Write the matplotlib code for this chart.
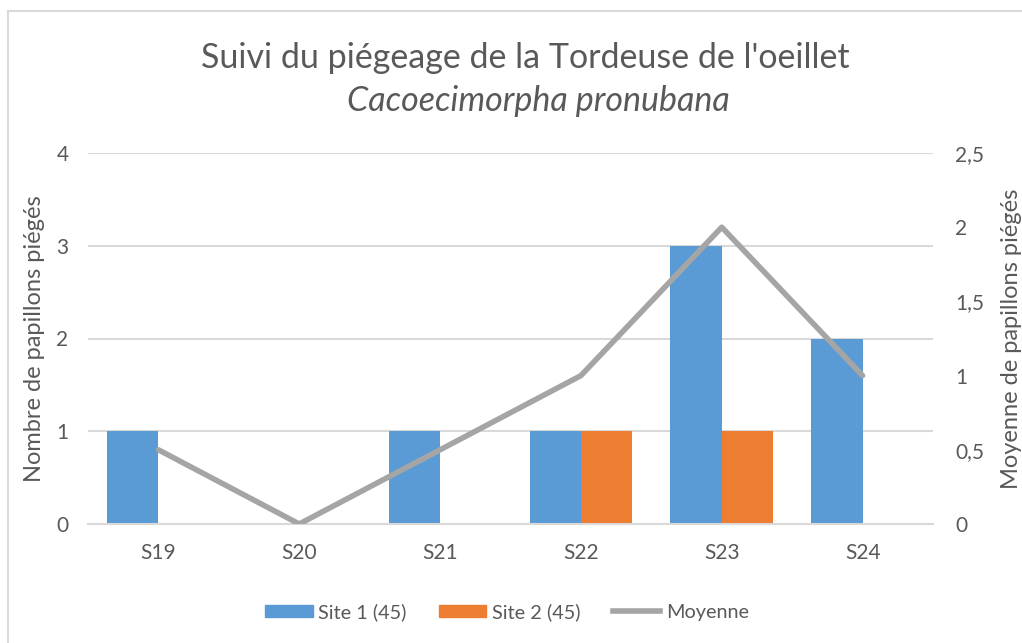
import numpy as np
import matplotlib
matplotlib.use("Agg")
import matplotlib.pyplot as plt
from matplotlib.patches import Rectangle
from matplotlib.lines import Line2D

plt.rcParams["font.family"] = ["Lato", "DejaVu Sans"]

# ── données ────────────────────────────────────────────────────────────────
semaines = ["S19", "S20", "S21", "S22", "S23", "S24"]
site1    = [1, 0, 1, 1, 3, 2]
site2    = [0, 0, 0, 1, 1, 0]
moyenne  = [0.5, 0, 0.5, 1, 2, 1]

BLEU, ORANGE, GRIS = "#5B9BD5", "#ED7D31", "#A5A5A5"
TXT  = "#595959"
GRID = "#D9D9D9"

fig = plt.figure(figsize=(10.22, 6.43), dpi=100)
ax = fig.add_axes([88/1022, 119/643, 845/1022, 371/643])
ax2 = ax.twinx()

x = np.arange(len(semaines))
w = 0.365
ax.bar(x - w/2, site1, width=w, color=BLEU, zorder=2)
ax.bar(x + w/2, site2, width=w, color=ORANGE, zorder=2)
ax2.plot(x, moyenne, color=GRIS, lw=4, solid_capstyle="round", zorder=3)

ax.set_xlim(-0.5, len(semaines) - 0.5)
ax.set_ylim(0, 4)
ax2.set_ylim(0, 2.5)
ax.set_yticks(range(5))
ax2.set_yticks([0, 0.5, 1, 1.5, 2, 2.5])
ax2.set_yticklabels(["0", "0,5", "1", "1,5", "2", "2,5"])
ax.set_xticks(x)
ax.set_xticklabels(semaines)

ax.grid(axis="y", color=GRID, lw=1.5, zorder=0)
ax.set_axisbelow(True)
for a in (ax, ax2):
    for s in a.spines.values():
        s.set_visible(False)
    a.tick_params(length=0, labelsize=15, colors=TXT)
ax.spines["bottom"].set_visible(True)
ax.spines["bottom"].set_color(GRID)
ax.spines["bottom"].set_linewidth(1.5)
ax.tick_params(axis="y", pad=14)
ax.tick_params(axis="x", pad=14)
ax2.tick_params(axis="y", pad=16)

ax.set_ylabel("Nombre de papillons piégés", fontsize=17, color=TXT, labelpad=8)
ax2.set_ylabel("Moyenne de papillons piégés", fontsize=17, color=TXT, labelpad=12)

fig.text(525/1022, 1 - 58/643, "Suivi du piégeage de la Tordeuse de l'oeillet",
         ha="center", va="center", fontsize=24.5, color=TXT)
fig.text(538/1022, 1 - 101/643, "Cacoecimorpha pronubana", ha="center", va="center",
         fontsize=24.5, color=TXT, style="italic")

# légende
poignees = [Rectangle((0, 0), 1, 1, color=BLEU),
            Rectangle((0, 0), 1, 1, color=ORANGE),
            Line2D([0], [0], color=GRIS, lw=4)]
fig.legend(poignees, ["Site 1 (45)", "Site 2 (45)", "Moyenne"],
           loc="center", bbox_to_anchor=(507/1022, 1 - 612/643), ncol=3, frameon=False,
           fontsize=14.3, labelcolor=TXT, handlelength=2.4, handleheight=0.55,
           handletextpad=0.3, columnspacing=1.6)

# cadre du graphique
fig.add_artist(Line2D([8/1022, 8/1022], [0, 1 - 11/643], color=GRID, lw=1.5))
fig.add_artist(Line2D([8/1022, 1], [1 - 11/643, 1 - 11/643], color=GRID, lw=1.5))

fig.savefig("out.png", dpi=100)
